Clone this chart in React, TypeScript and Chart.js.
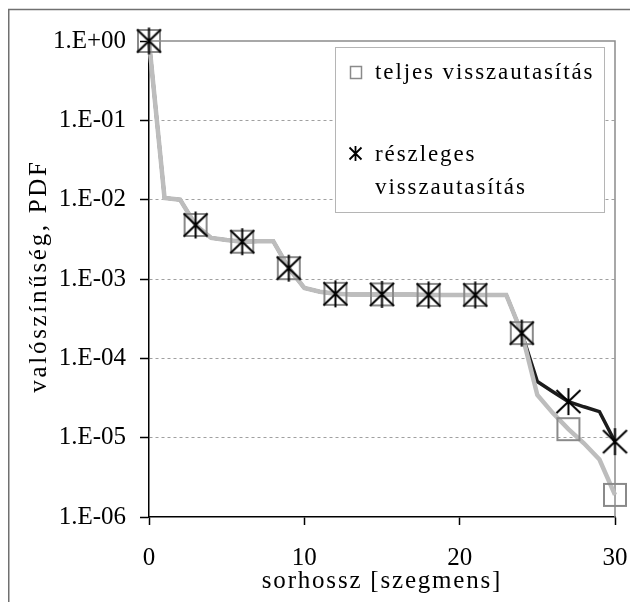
import React, { useEffect, useRef } from 'react';
import { Chart, registerables } from 'chart.js';

Chart.register(...registerables);

// ---- data ----
const xValues = [0, 1, 2, 3, 4, 5, 6, 7, 8, 9, 10, 11, 12, 13, 14, 15, 16, 17, 18, 19, 20, 21, 22, 23, 24, 25, 26, 27, 28, 29, 30];
const fullRejection = [
  1, 1.05e-2, 1.0e-2, 4.8e-3, 3.3e-3, 3.1e-3, 2.95e-3, 3.0e-3, 3.0e-3, 1.37e-3,
  7.7e-4, 6.9e-4, 6.5e-4, 6.4e-4, 6.4e-4, 6.4e-4, 6.4e-4, 6.4e-4, 6.3e-4, 6.3e-4,
  6.3e-4, 6.3e-4, 6.3e-4, 6.3e-4, 2.08e-4, 3.45e-5, 2.04e-5, 1.28e-5, 8.5e-6, 5.3e-6,
  1.9e-6,
];
const partialRejection = [
  1, 1.05e-2, 1.0e-2, 4.8e-3, 3.3e-3, 3.1e-3, 2.95e-3, 3.0e-3, 3.0e-3, 1.37e-3,
  7.7e-4, 6.9e-4, 6.5e-4, 6.4e-4, 6.4e-4, 6.4e-4, 6.4e-4, 6.4e-4, 6.3e-4, 6.3e-4,
  6.3e-4, 6.3e-4, 6.3e-4, 6.3e-4, 2.08e-4, 5.1e-5, 3.8e-5, 2.85e-5, 2.45e-5, 2.13e-5,
  8.9e-6,
];
const yTickValues = [1, 1e-1, 1e-2, 1e-3, 1e-4, 1e-5, 1e-6];
const yTickLabels = ['1.E+00', '1.E-01', '1.E-02', '1.E-03', '1.E-04', '1.E-05', '1.E-06'];
const xTickValues = [0, 10, 20, 30];
const seriesFull = 'teljes visszautasítás';
const seriesPartial = 'részleges visszautasítás';
const legendFullLines = ['teljes visszautasítás'];
const legendPartialLines = ['részleges', 'visszautasítás'];
const xTitle = 'sorhossz [szegmens]';
const yTitle = 'valószínűség, PDF';
const markerEvery = 3;

const SERIF = '"Liberation Serif", "Times New Roman", serif';
const GRAY_LINE = '#bdbdbd';
const GRAY_MARK = '#8a8a8a';
const BLACK_LINE = '#1c1c1c';

function makeSquare(size: number, lw: number, color: string) {
  const c = document.createElement('canvas');
  const s = size + 4;
  c.width = s;
  c.height = s;
  const g = c.getContext('2d')!;
  g.strokeStyle = color;
  g.lineWidth = lw;
  g.strokeRect((s - size) / 2, (s - size) / 2, size, size);
  return c;
}

function drawAsteriskAt(g: CanvasRenderingContext2D, cx: number, cy: number, hw: number, hh: number, vh: number) {
  g.beginPath();
  g.moveTo(cx - hw, cy - hh);
  g.lineTo(cx + hw, cy + hh);
  g.moveTo(cx - hw, cy + hh);
  g.lineTo(cx + hw, cy - hh);
  g.moveTo(cx, cy - vh);
  g.lineTo(cx, cy + vh);
  g.stroke();
}

function makeAsterisk(hw: number, hh: number, vh: number, lw: number, color: string) {
  const c = document.createElement('canvas');
  const s = Math.ceil(Math.max(hw, vh) * 2 + 4);
  c.width = s;
  c.height = s;
  const g = c.getContext('2d')!;
  g.strokeStyle = color;
  g.lineWidth = lw;
  drawAsteriskAt(g, s / 2, s / 2, hw, hh, vh);
  return c;
}

const decorPlugin = {
  id: 'decor',
  beforeDatasetsDraw(chart: any) {
    const { ctx, chartArea: a } = chart;
    ctx.save();
    ctx.strokeStyle = '#8c8c8c';
    ctx.lineWidth = 1.5;
    ctx.beginPath();
    ctx.moveTo(a.left, a.top);
    ctx.lineTo(a.right, a.top);
    ctx.lineTo(a.right, a.bottom);
    ctx.stroke();
    ctx.restore();
  },
  afterDraw(chart: any) {
    const { ctx, chartArea: a } = chart;
    ctx.save();
    // outer frame (left & top visible)
    ctx.strokeStyle = '#707070';
    ctx.lineWidth = 1.5;
    ctx.beginPath();
    ctx.moveTo(0.75, chart.height);
    ctx.lineTo(0.75, 1.5);
    ctx.lineTo(chart.width, 1.5);
    ctx.stroke();

    // legend box
    const bx = 327, by = 39, bw = 269, bh = 165;
    ctx.fillStyle = '#ffffff';
    ctx.fillRect(bx, by, bw, bh);
    ctx.strokeStyle = '#b5b5b5';
    ctx.lineWidth = 1;
    ctx.strokeRect(bx + 0.5, by + 0.5, bw, bh);

    // legend icons
    ctx.strokeStyle = GRAY_MARK;
    ctx.lineWidth = 1.5;
    ctx.strokeRect(342.5, 58.5, 11, 12);
    ctx.strokeStyle = '#000';
    ctx.lineWidth = 1.8;
    drawAsteriskAt(ctx, 347.5, 145.5, 6, 6, 7.5);

    // legend text
    ctx.fillStyle = '#000';
    ctx.font = `23px ${SERIF}`;
    (ctx as any).letterSpacing = '1.9px';
    ctx.textAlign = 'left';
    ctx.textBaseline = 'middle';
    legendFullLines.forEach((t, i) => ctx.fillText(t, 367, 65 + i * 33));
    legendPartialLines.forEach((t, i) => ctx.fillText(t, 367, 147 + i * 33));

    // axis titles
    ctx.font = `25px ${SERIF}`;
    (ctx as any).letterSpacing = '1.8px';
    ctx.textAlign = 'center';
    ctx.textBaseline = 'alphabetic';
    ctx.fillText(xTitle, (a.left + a.right) / 2, 580);

    (ctx as any).letterSpacing = '2.7px';
    ctx.save();
    ctx.translate(31, 268);
    ctx.rotate(-Math.PI / 2);
    ctx.textBaseline = 'middle';
    ctx.fillText(yTitle, 0, 0);
    ctx.restore();

    (ctx as any).letterSpacing = '0px';
    ctx.restore();
  },
};

export default function App() {
  const ref = useRef<HTMLCanvasElement | null>(null);

  useEffect(() => {
    const canvas = ref.current!;
    const squareImg = makeSquare(22, 2, GRAY_MARK);
    const starImg = makeAsterisk(12, 11.5, 13.5, 2, '#000');

    const fullPts = xValues.map((x, i) => ({ x, y: fullRejection[i] }));
    const partPts = xValues.map((x, i) => ({ x, y: partialRejection[i] }));
    const markerRadius = (c: any) => (c.dataIndex % markerEvery === 0 ? 12 : 0);

    const chart = new Chart(canvas, {
      type: 'line',
      data: {
        datasets: [
          {
            label: seriesPartial,
            data: partPts,
            showLine: false,
            pointStyle: starImg as any,
            pointRadius: markerRadius,
            pointHoverRadius: markerRadius,
            clip: false as any,
          },
          {
            label: seriesFull,
            data: fullPts,
            showLine: false,
            pointStyle: squareImg as any,
            pointRadius: markerRadius,
            pointHoverRadius: markerRadius,
            clip: false as any,
          },
          {
            label: seriesFull + ' line',
            data: fullPts,
            borderColor: GRAY_LINE,
            borderWidth: 4.5,
            pointRadius: 0,
            tension: 0,
            clip: false as any,
          },
          {
            label: seriesPartial + ' line',
            data: partPts,
            borderColor: BLACK_LINE,
            borderWidth: 3.5,
            pointRadius: 0,
            tension: 0,
            clip: false as any,
          },
        ],
      },
      options: {
        responsive: false,
        animation: false,
        devicePixelRatio: 1,
        events: [],
        layout: { autoPadding: false, padding: { top: 33, right: 15, left: 0, bottom: 0 } },
        plugins: {
          legend: { display: false },
          tooltip: { enabled: false },
          title: { display: false },
        },
        scales: {
          x: {
            type: 'linear',
            min: 0,
            max: 30,
            afterBuildTicks: (s: any) => {
              s.ticks = xTickValues.map((v) => ({ value: v }));
            },
            afterFit: (s: any) => {
              s.height = 85;
              s.paddingLeft = 0;
              s.paddingRight = 0;
            },
            ticks: {
              font: { family: SERIF, size: 25 },
              color: '#000',
              padding: 18,
              maxRotation: 0,
            },
            grid: {
              drawOnChartArea: false,
              drawTicks: true,
              tickLength: 8,
              tickColor: '#000',
              tickWidth: 1.5,
            },
            border: { display: true, color: '#000', width: 1.5 },
          },
          y: {
            type: 'logarithmic',
            min: 1e-6,
            max: 1,
            afterBuildTicks: (s: any) => {
              s.ticks = yTickValues.map((v) => ({ value: v }));
            },
            afterFit: (s: any) => {
              s.width = 141;
              s.paddingTop = 0;
              s.paddingBottom = 0;
            },
            ticks: {
              font: { family: SERIF, size: 25 },
              color: '#000',
              padding: 14,
              callback: (v: any) => {
                const i = yTickValues.findIndex((t) => Math.abs(Math.log10(t) - Math.log10(v)) < 1e-6);
                return i >= 0 ? yTickLabels[i] : '';
              },
            },
            grid: {
              drawOnChartArea: true,
              drawTicks: true,
              tickLength: 9,
              tickColor: '#000',
              tickWidth: 1.5,
              lineWidth: 1,
              color: (c: any) => {
                const v = c.tick && c.tick.value;
                if (v === undefined) return 'rgba(0,0,0,0)';
                if (Math.abs(Math.log10(v)) < 1e-6 || Math.abs(Math.log10(v) + 6) < 1e-6) return 'rgba(0,0,0,0)';
                return '#a0a0a0';
              },
            },
            border: { display: true, color: '#000', width: 1.5, dash: [3, 3] },
          },
        },
      },
      plugins: [decorPlugin],
    } as any);

    return () => chart.destroy();
  }, []);

  return (
    <div style={{ width: 622, height: 594 }}>
      <canvas ref={ref} width={622} height={594} style={{ display: 'block', width: 622, height: 594 }} />
    </div>
  );
}
